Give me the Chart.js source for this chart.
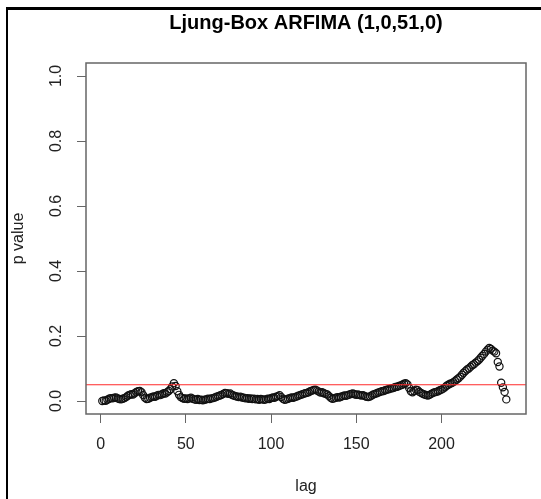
<!DOCTYPE html>
<html>
<head>
<meta charset="utf-8">
<script src="https://cdn.jsdelivr.net/npm/chart.js@4.4.0/dist/chart.umd.min.js"></script>
<style>
    body { margin: 0; background: #fff; overflow: hidden; }
    #wrap { position: relative; width: 541px; height: 499px; }
    #frame { position: absolute; left: 6px; top: 7px; right: 0; bottom: 0;
             border-left: 2px solid #000; border-top: 3px solid #000; pointer-events: none; }
</style>
</head>
<body>
<div id="wrap">
    <canvas id="myChart" width="541" height="499"></canvas>
    <div id="frame"></div>
</div>
<script>
// Ljung-Box p values by lag
const pValues = [
    0.000, 0.002, 0.001, 0.004, 0.007, 0.009, 0.008, 0.010, 0.011, 0.008,
    0.006, 0.005, 0.007, 0.009, 0.012, 0.016, 0.019, 0.021, 0.020, 0.024,
    0.028, 0.030, 0.031, 0.027, 0.018, 0.010, 0.006, 0.007, 0.010, 0.012,
    0.014, 0.013, 0.016, 0.019, 0.018, 0.021, 0.024, 0.023, 0.027, 0.031,
    0.036, 0.045, 0.055, 0.046, 0.030, 0.019, 0.012, 0.009, 0.007, 0.008,
    0.006, 0.008, 0.010, 0.007, 0.005, 0.004, 0.006, 0.003, 0.004, 0.002,
    0.004, 0.005, 0.007, 0.006, 0.008, 0.009, 0.011, 0.013, 0.015, 0.017,
    0.019, 0.022, 0.025, 0.024, 0.022, 0.023, 0.019, 0.017, 0.015, 0.014,
    0.012, 0.013, 0.011, 0.010, 0.008, 0.009, 0.007, 0.008, 0.006, 0.007,
    0.005, 0.006, 0.004, 0.006, 0.005, 0.004, 0.005, 0.007, 0.006, 0.009,
    0.011, 0.010, 0.013, 0.015, 0.018, 0.012, 0.007, 0.004, 0.005, 0.007,
    0.009, 0.011, 0.010, 0.012, 0.014, 0.016, 0.018, 0.020, 0.022, 0.024,
    0.025, 0.027, 0.030, 0.032, 0.034, 0.035, 0.032, 0.029, 0.026, 0.027,
    0.024, 0.022, 0.020, 0.015, 0.010, 0.007, 0.008, 0.010, 0.012, 0.011,
    0.013, 0.015, 0.017, 0.016, 0.018, 0.020, 0.022, 0.023, 0.021, 0.019,
    0.020, 0.018, 0.017, 0.018, 0.015, 0.013, 0.012, 0.014, 0.017, 0.020,
    0.022, 0.024, 0.026, 0.028, 0.030, 0.031, 0.033, 0.035, 0.036, 0.038,
    0.039, 0.041, 0.043, 0.044, 0.046, 0.048, 0.050, 0.053, 0.055, 0.051,
    0.040, 0.030, 0.027, 0.031, 0.035, 0.033, 0.028, 0.025, 0.022, 0.020,
    0.018, 0.017, 0.019, 0.022, 0.025, 0.027, 0.028, 0.030, 0.033, 0.035,
    0.038, 0.042, 0.047, 0.050, 0.053, 0.055, 0.058, 0.062, 0.066, 0.070,
    0.075, 0.081, 0.087, 0.092, 0.097, 0.100, 0.105, 0.110, 0.113, 0.118,
    0.122, 0.127, 0.133, 0.139, 0.145, 0.152, 0.158, 0.163, 0.160, 0.155,
    0.152, 0.147, 0.120, 0.106, 0.056, 0.042, 0.028, 0.005
];
const refLevel = 0.05;

const xTicks = [0, 50, 100, 150, 200];
const yTicks = [0, 0.2, 0.4, 0.6, 0.8, 1.0];
const yTickLabels = ['0.0', '0.2', '0.4', '0.6', '0.8', '1.0'];
const xRange = [-8.56, 249.56];
const yRange = [-0.04, 1.04];

const chartTitle = 'Ljung-Box ARFIMA (1,0,51,0)';
const xTitle = 'lag';
const yTitle = 'p value';

const FONT = "'Liberation Sans', Arial, sans-serif";

var points = pValues.map(function (p, i) {
    return {x: i + 1, y: p};
});

// abline(h = 0.05) across the whole plot box
var refLine = [{x: xRange[0], y: refLevel}, {x: xRange[1], y: refLevel}];

// R style extras: box, rotated y labels, titles
const rDecor = {
    id: 'rDecor',
    afterDraw(chart) {
        const ctx = chart.ctx, a = chart.chartArea;
        const ys = chart.scales.y;
        ctx.save();
        ctx.strokeStyle = '#666';
        ctx.lineWidth = 1.5;
        ctx.strokeRect(a.left, a.top, a.right - a.left, a.bottom - a.top);

        ctx.fillStyle = '#222';
        ctx.textAlign = 'center';
        ctx.textBaseline = 'middle';
        ctx.font = '16px ' + FONT;
        yTicks.forEach(function (v, i) {
            ctx.save();
            ctx.translate(57, ys.getPixelForValue(v));
            ctx.rotate(-Math.PI / 2);
            ctx.fillText(yTickLabels[i], 0, 0);
            ctx.restore();
        });

        ctx.save();
        ctx.translate(19, (a.top + a.bottom) / 2);
        ctx.rotate(-Math.PI / 2);
        ctx.fillText(yTitle, 0, 0);
        ctx.restore();

        ctx.fillText(xTitle, (a.left + a.right) / 2, 487);

        ctx.fillStyle = '#000';
        ctx.font = 'bold 20px ' + FONT;
        ctx.fillText(chartTitle, (a.left + a.right) / 2, 23);
        ctx.restore();
    }
};

const ctx = document.getElementById('myChart');

new Chart(ctx, {
    type: 'scatter',
    data: {
        datasets: [{
                type: 'line',
                label: 'level',
                data: refLine,
                borderColor: 'rgb(255, 40, 40)',
                borderWidth: 1.2,
                pointRadius: 0,
                fill: false,
                order: 1
            },
            {
                label: 'p value',
                data: points,
                pointStyle: 'circle',
                pointRadius: 3.6,
                borderWidth: 1.2,
                borderColor: '#111',
                backgroundColor: 'rgba(0,0,0,0)',
                order: 2
            }]
    },
    options: {
        responsive: false,
        animation: false,
        devicePixelRatio: 1,
        layout: {
            padding: {top: 63, right: 15, left: 0, bottom: 0}
        },
        plugins: {
            legend: {display: false},
            tooltip: {enabled: false}
        },
        scales: {
            x: {
                type: 'linear',
                min: xRange[0],
                max: xRange[1],
                afterBuildTicks: function (s) {
                    s.ticks = xTicks.map(function (v) { return {value: v}; });
                },
                afterFit: function (s) { s.height = 85; },
                border: {display: false},
                grid: {drawOnChartArea: false, drawTicks: true, tickLength: 9, color: '#666'},
                ticks: {
                    color: '#222',
                    padding: 12,
                    maxRotation: 0,
                    font: {family: FONT, size: 16}
                }
            },
            y: {
                type: 'linear',
                min: yRange[0],
                max: yRange[1],
                afterBuildTicks: function (s) {
                    s.ticks = yTicks.map(function (v) { return {value: v}; });
                },
                afterFit: function (s) { s.width = 86; },
                border: {display: false},
                grid: {drawOnChartArea: false, drawTicks: true, tickLength: 9, color: '#666'},
                ticks: {display: false}
            }
        }
    },
    plugins: [rDecor]
});
</script>
</body>
</html>
